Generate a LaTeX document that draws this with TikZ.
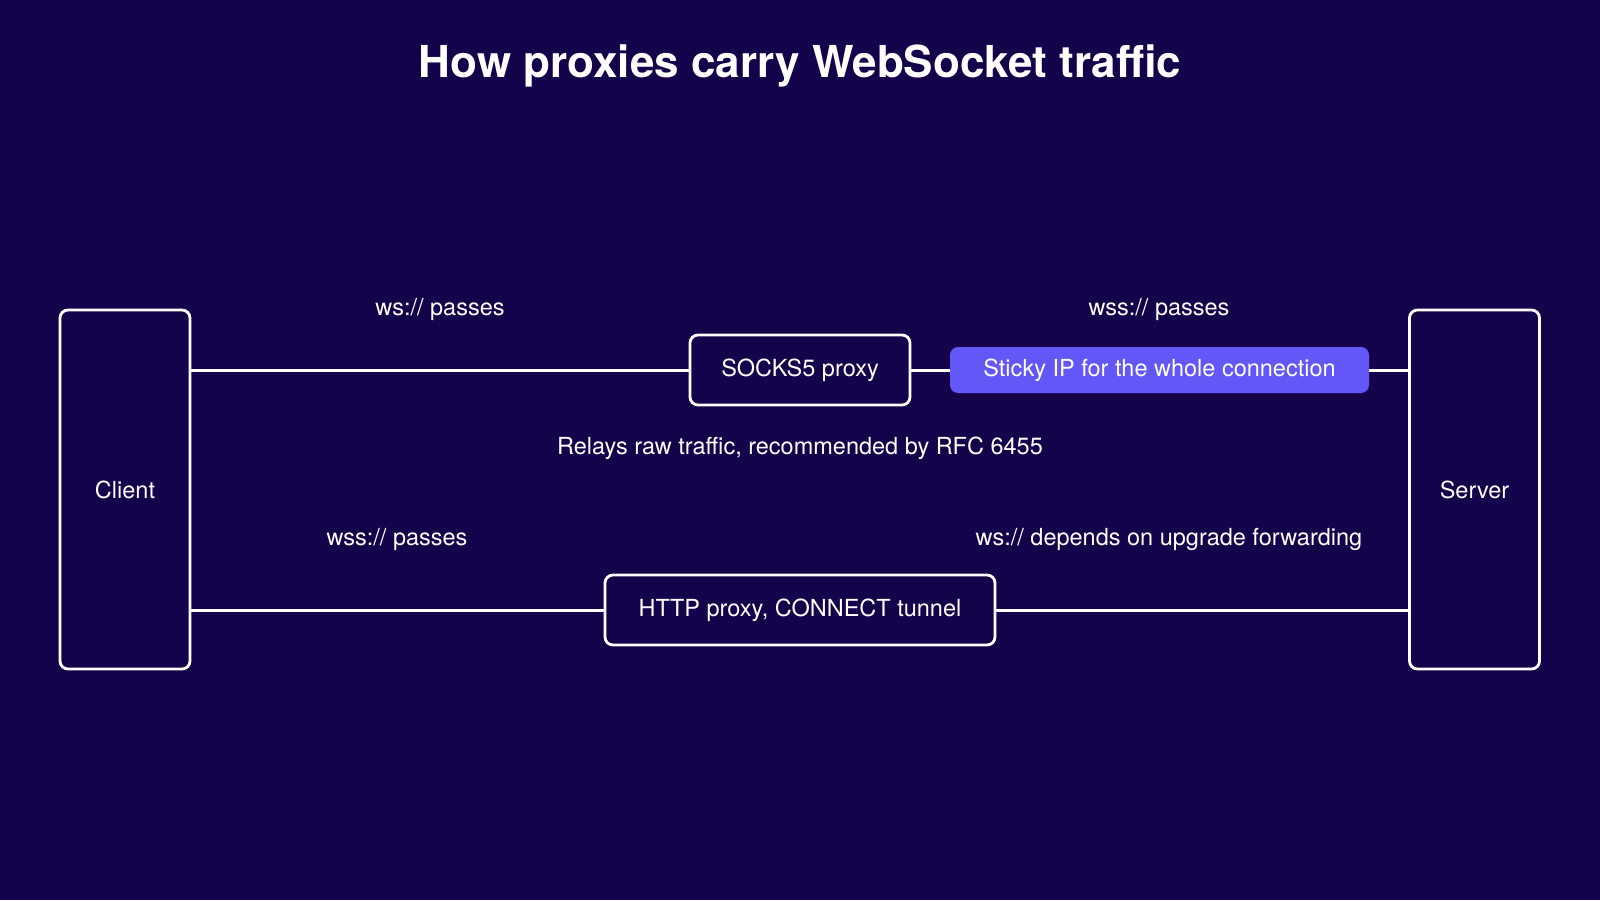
\documentclass[tikz,border=0pt]{standalone}
\usepackage{fontspec}
\setmainfont{TeX Gyre Heros}
\definecolor{bg}{HTML}{14034A}
\definecolor{pill}{HTML}{6357F8}
\begin{document}
\begin{tikzpicture}[x=1pt,y=-1pt,
  box/.style={draw=white,line width=2.8pt,rounded corners=8pt,text=white,font=\fontsize{23.5}{27}\selectfont,inner sep=0pt},
  lbl/.style={text=white,font=\fontsize{23.5}{27}\selectfont},
  ln/.style={draw=white,line width=3pt}]
\fill[bg] (0,0) rectangle (1600,900);
\useasboundingbox (0,0) rectangle (1600,900);
\node[text=white,font=\bfseries\fontsize{44}{50}\selectfont] (title) at (800,66) {How proxies carry WebSocket traffic};
\node[box,minimum width=130,minimum height=359] (client) at (125,489.5) {Client};
\node[box,minimum width=130,minimum height=359] (server) at (1474.5,489.5) {Server};
\node[box,minimum width=220,minimum height=70] (socks) at (800,370) {SOCKS5 proxy};
\node[box,minimum width=390,minimum height=70] (http) at (800,610) {HTTP proxy, CONNECT tunnel};
\coordinate (c1) at (client.east |- socks);
\coordinate (c2) at (client.east |- http);
\coordinate (s1) at (server.west |- socks);
\coordinate (s2) at (server.west |- http);
\draw[ln] (c1) -- (socks.west);
\draw[ln] (socks.east) -- (s1);
\draw[ln] (c2) -- (http.west);
\draw[ln] (http.east) -- (s2);
\node[fill=pill,rounded corners=8pt,minimum width=419,minimum height=46,inner sep=0pt,text=white,font=\fontsize{23.5}{27}\selectfont] (sticky) at (1159.5,370) {Sticky IP for the whole connection};
\node[lbl] (l1) at (440,309) {ws:// passes};
\node[lbl] (l2) at (1159,309) {wss:// passes};
\node[lbl] (l3) at (800,448) {Relays raw traffic, recommended by RFC 6455};
\node[lbl] (l4) at (397,539) {wss:// passes};
\node[lbl] (l5) at (1169,539) {ws:// depends on upgrade forwarding};
\end{tikzpicture}
\end{document}
